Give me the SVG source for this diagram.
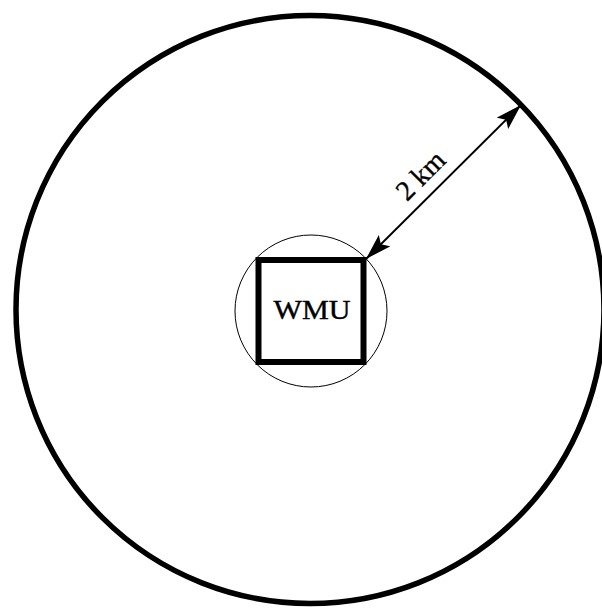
<svg xmlns="http://www.w3.org/2000/svg" width="602" height="608" viewBox="0 0 602 608">
<style>
.lbl{font-family:"Liberation Serif","Times New Roman",serif;fill:#000;stroke:#000;stroke-width:0.4}
</style>
<defs>
<marker id="ah" viewBox="0 0 26 16" refX="26" refY="8" markerWidth="26" markerHeight="16" markerUnits="userSpaceOnUse" orient="auto-start-reverse">
<path d="M0,0 L26,8 L0,16 L5,8 Z" fill="#000"/>
</marker>
</defs>
<rect width="602" height="608" fill="#fff"/>
<g id="outer-ring">
<circle cx="310" cy="309.5" r="294" fill="none" stroke="#000" stroke-width="5.5"/>
</g>
<g id="inner-ring">
<circle cx="311" cy="311" r="76" fill="none" stroke="#000" stroke-width="1"/>
</g>
<g id="wmu">
<rect x="258.5" y="260" width="105" height="102" fill="none" stroke="#000" stroke-width="6"/>
<text class="lbl" x="312" y="319" font-size="28" text-anchor="middle" textLength="77" lengthAdjust="spacingAndGlyphs">WMU</text>
</g>
<g id="connectors">
<line x1="366" y1="259" x2="521" y2="105" stroke="#000" stroke-width="2" marker-start="url(#ah)" marker-end="url(#ah)"/>
<text class="lbl" font-size="28" text-anchor="middle" transform="translate(427,182) rotate(-45)">2 km</text>
</g>
</svg>
